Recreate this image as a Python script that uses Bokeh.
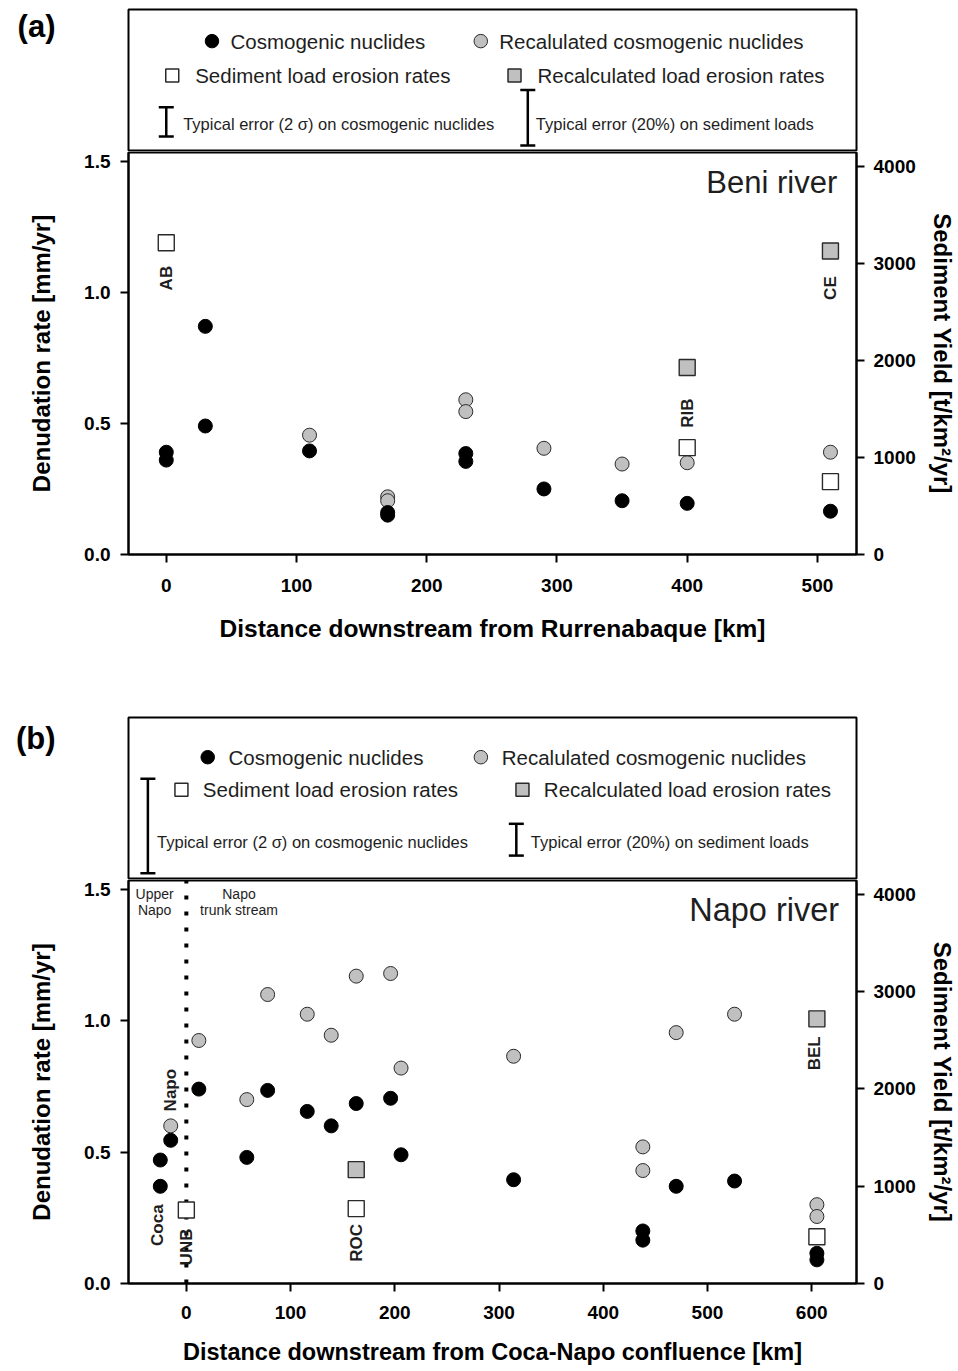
from math import pi

from bokeh.plotting import figure
from bokeh.layouts import column
from bokeh.models import (Range1d, LinearAxis, FixedTicker, Label, Whisker, TeeHead,
                          ColumnDataSource, NumeralTickFormatter, CustomJSTickFormatter)
from bokeh.embed import file_html
from bokeh.resources import INLINE

FONT = "Liberation Sans"
T_PER_MM = 2700          # sediment yield (t/km2/yr) equivalent of 1 mm/yr at 2.7 t/m3

# ---------------- Beni river ----------------
beni_cosmo_km = [0, 0, 30, 30, 110, 170, 170, 230, 230, 290, 350, 400, 510]
beni_cosmo_rate = [0.39, 0.36, 0.87, 0.49, 0.395, 0.16, 0.15, 0.385, 0.355, 0.25, 0.205, 0.195, 0.165]
beni_recalc_km = [110, 170, 170, 230, 230, 290, 350, 400, 510]
beni_recalc_rate = [0.455, 0.22, 0.205, 0.59, 0.545, 0.405, 0.345, 0.35, 0.39]
beni_load_km = [0, 400, 510]
beni_load_yield = [3210, 1100, 750]
beni_recalc_load_km = [400, 510]
beni_recalc_load_yield = [1925, 3125]
beni_stations = ["AB", "RIB", "CE"]
beni_station_km = [0, 400, 510]
beni_cosmo_err = 0.112      # typical 2 sigma, mm/yr
beni_load_err = 0.212       # 20 % on sediment loads, mm/yr

# ---------------- Napo river ----------------
napo_cosmo_km = [-25, -25, -15, 12, 58, 78, 116, 139, 163, 196, 206, 314, 438, 438, 470, 526, 605, 605]
napo_cosmo_rate = [0.47, 0.37, 0.545, 0.74, 0.48, 0.735, 0.655, 0.60, 0.685, 0.705, 0.49,
                   0.395, 0.20, 0.165, 0.37, 0.39, 0.115, 0.09]
napo_recalc_km = [-15, 12, 58, 78, 116, 139, 163, 196, 206, 314, 438, 438, 470, 526, 605, 605]
napo_recalc_rate = [0.60, 0.925, 0.70, 1.10, 1.025, 0.945, 1.17, 1.18, 0.82, 0.865, 0.52, 0.43,
                    0.955, 1.025, 0.30, 0.255]
napo_load_km = [0, 163, 605]
napo_load_yield = [755, 770, 480]
napo_recalc_load_km = [163, 605]
napo_recalc_load_yield = [1170, 2720]
napo_stations = ["Coca", "Napo", "UNB", "ROC", "BEL"]
napo_station_km = [-28, -15, 0, 163, 603]
napo_cosmo_err = 0.359
napo_load_err = 0.121

# ---------------- ticks ----------------
Y_TICKS = [0, 0.5, 1.0, 1.5]
YIELD_TICKS = [0, 1000, 2000, 3000, 4000]
BENI_X_TICKS = [0, 100, 200, 300, 400, 500]
NAPO_X_TICKS = [0, 100, 200, 300, 400, 500, 600]

GREY = "#c0c0c0"
EDGE = "#2a2a2a"
TXT = "#1e1e1e"

BORDER_L, BORDER_R, WIDTH = 128, 102, 958


def style_axis(ax, standoff):
    ax.axis_line_width = 2
    ax.axis_line_color = "black"
    ax.major_tick_line_width = 2
    ax.major_tick_line_color = "black"
    ax.major_tick_out = 8
    ax.major_tick_in = 0
    ax.minor_tick_line_color = None
    ax.major_label_text_font = FONT
    ax.major_label_text_font_style = "bold"
    ax.major_label_text_font_size = "19px"
    ax.major_label_text_color = "black"
    ax.major_label_standoff = standoff


def title_style(ax, size, standoff):
    ax.axis_label_text_font = FONT
    ax.axis_label_text_font_style = "bold"
    ax.axis_label_text_font_size = size
    ax.axis_label_text_color = "black"
    ax.axis_label_standoff = standoff


def make_plot(height, bottom, xr, ytop, x_ticks, xlabel, xlabel_size, tick_sd, label_sd):
    p = figure(width=WIDTH, height=height, x_range=Range1d(*xr), y_range=Range1d(0, ytop),
               output_backend="svg", toolbar_location=None,
               min_border_left=BORDER_L, min_border_right=BORDER_R,
               min_border_top=1, min_border_bottom=bottom)
    p.grid.visible = False
    p.outline_line_color = "black"
    p.outline_line_width = 2
    p.background_fill_color = "white"
    p.border_fill_color = "white"
    p.extra_y_ranges = {"yield": Range1d(0, ytop * T_PER_MM)}

    p.yaxis.ticker = FixedTicker(ticks=Y_TICKS)
    p.yaxis.formatter = NumeralTickFormatter(format="0.0")
    style_axis(p.yaxis[0], 10)
    p.yaxis.axis_label = "Denudation rate [mm/yr]"
    title_style(p.yaxis[0], "24px", 26)

    p.xaxis.ticker = FixedTicker(ticks=x_ticks)
    style_axis(p.xaxis[0], tick_sd)
    p.xaxis.axis_label = xlabel
    title_style(p.xaxis[0], xlabel_size, label_sd)

    right = LinearAxis(y_range_name="yield", ticker=FixedTicker(ticks=YIELD_TICKS),
                       axis_label="Sediment Yield [t/km\u00b2/yr]")
    style_axis(right, 9)
    title_style(right, "24px", 10)
    p.add_layout(right, "right")
    return p


def make_key_figure(height, top, xr, yr, tag, tag_y):
    k = figure(width=WIDTH, height=height, x_range=Range1d(*xr), y_range=Range1d(*yr),
               x_axis_location=None, y_axis_location=None, output_backend="svg",
               toolbar_location=None, min_border_left=BORDER_L, min_border_right=BORDER_R,
               min_border_top=top, min_border_bottom=0)
    k.grid.visible = False
    k.outline_line_color = "black"
    k.outline_line_width = 2
    k.background_fill_color = "white"
    k.border_fill_color = "white"
    # panel letter, set in the left margin as a single unlined tick label
    tag_axis = LinearAxis(ticker=FixedTicker(ticks=[tag_y]),
                          formatter=CustomJSTickFormatter(code="return %r;" % tag))
    tag_axis.axis_line_color = None
    tag_axis.major_tick_line_color = None
    tag_axis.minor_tick_line_color = None
    tag_axis.major_tick_out = 0
    tag_axis.major_label_standoff = 73
    tag_axis.major_label_text_font = FONT
    tag_axis.major_label_text_font_style = "bold"
    tag_axis.major_label_text_font_size = "31px"
    tag_axis.major_label_text_color = "black"
    k.add_layout(tag_axis, "left")
    return k


def add_text(p, x, y, text, size, bold=False, align="left", angle=0.0, color=TXT):
    p.add_layout(Label(x=x, y=y, text=text, text_font=FONT, text_font_size=size,
                       text_font_style="bold" if bold else "normal", text_color=color,
                       text_align=align, text_baseline="middle", angle=angle))


def add_key(k, row1, row2, row3, dot_x, sq_x, txt_dx_dot, txt_dx_sq, bar1, bar2, err1, err2):
    # row 1: circles
    k.scatter([dot_x[0]], [row1], marker="circle", size=13.5, fill_color="black", line_color="black")
    k.scatter([dot_x[1]], [row1], marker="circle", size=13.5, fill_color=GREY, line_color=EDGE)
    add_text(k, dot_x[0] + txt_dx_dot, row1, "Cosmogenic nuclides", "20.5px")
    add_text(k, dot_x[1] + txt_dx_dot, row1, "Recalulated cosmogenic nuclides", "20.5px")
    # row 2: squares
    k.scatter([sq_x[0]], [row2], marker="square", size=13, fill_color="white", line_color=EDGE, line_width=1.5)
    k.scatter([sq_x[1]], [row2], marker="square", size=13, fill_color=GREY, line_color=EDGE, line_width=1.5)
    add_text(k, sq_x[0] + txt_dx_sq, row2, "Sediment load erosion rates", "20.5px")
    add_text(k, sq_x[1] + txt_dx_sq, row2, "Recalculated load erosion rates", "20.5px")
    # row 3: typical error bars
    src = ColumnDataSource(dict(x=[bar1[0], bar2[0]],
                                lo=[bar1[1] - err1 / 2, bar2[1] - err2 / 2],
                                up=[bar1[1] + err1 / 2, bar2[1] + err2 / 2]))
    k.add_layout(Whisker(source=src, base="x", lower="lo", upper="up", dimension="height",
                         line_color="black", line_width=2.5,
                         lower_head=TeeHead(size=15, line_width=2.5, line_color="black"),
                         upper_head=TeeHead(size=15, line_width=2.5, line_color="black")))
    add_text(k, bar1[2], row3, "Typical error (2 \u03c3) on cosmogenic nuclides", "16.5px")
    add_text(k, bar2[2], row3, "Typical error (20%) on sediment loads", "16.5px")


def add_data(p, ck, cr, rk, rr, lk, ly, qk, qy):
    p.scatter(rk, rr, marker="circle", size=14, fill_color=GREY, line_color=EDGE, line_width=1)
    p.scatter(ck, cr, marker="circle", size=14, fill_color="black", line_color="black")
    p.scatter(lk, ly, y_range_name="yield", marker="square", size=16,
              fill_color="white", line_color=EDGE, line_width=1.4)
    p.scatter(qk, qy, y_range_name="yield", marker="square", size=16,
              fill_color=GREY, line_color=EDGE, line_width=1.4)


# ================= panel (a) =================
A_X = (-29, 530)
A_TOP = 1.533
ka = make_key_figure(151, 9, A_X, (1.537, 2.0786), "(a)", 2.0156)
add_key(ka, 1.958, 1.827, 1.640, (35.1, 241.5), (4.6, 267.4), 14.2, 17.6,
        (0, 1.650, 13.0), (277.6, 1.666, 283.8), beni_cosmo_err, beni_load_err)

pa = make_plot(509, 106, A_X, A_TOP, BENI_X_TICKS,
               "Distance downstream from Rurrenabaque [km]", "24.5px", 16, 20)
add_data(pa, beni_cosmo_km, beni_cosmo_rate, beni_recalc_km, beni_recalc_rate,
         beni_load_km, beni_load_yield, beni_recalc_load_km, beni_recalc_load_yield)
for name, km, yy in zip(beni_stations, beni_station_km, [1.054, 0.539, 1.016]):
    add_text(pa, km, yy, name, "17px", bold=True, align="center", angle=pi / 2)
add_text(pa, 515.2, 1.417, "Beni river", "31px", align="right")

# ================= panel (b) =================
B_X = (-55.5, 643)
B_TOP = 1.534
kb = make_key_figure(219, 57, B_X, (1.5378, 2.1545), "(b)", 2.0745)
add_key(kb, 2.0034, 1.8793, 1.6798, (20.5, 282.6), (-4.7, 322.5), 20.0, 20.5,
        (-36.9, 1.7415, -28.1), (316.6, 1.6893, 330.5), napo_cosmo_err, napo_load_err)

pb = make_plot(492, 88, B_X, B_TOP, NAPO_X_TICKS,
               "Distance downstream from Coca-Napo confluence [km]", "23.5px", 14, 17)
# Coca-Napo confluence
pb.segment(x0=[0], y0=[0], x1=[0], y1=[B_TOP], line_color="black", line_width=4,
           line_dash="4 12")
add_data(pb, napo_cosmo_km, napo_cosmo_rate, napo_recalc_km, napo_recalc_rate,
         napo_load_km, napo_load_yield, napo_recalc_load_km, napo_recalc_load_yield)
for name, km, yy in zip(napo_stations, napo_station_km, [0.222, 0.736, 0.139, 0.155, 0.876]):
    add_text(pb, km, yy, name, "17px", bold=True, align="center", angle=pi / 2)
add_text(pb, -30.4, 1.482, "Upper", "14px", align="center")
add_text(pb, -30.4, 1.421, "Napo", "14px", align="center")
add_text(pb, 50.5, 1.482, "Napo", "14px", align="center")
add_text(pb, 50.5, 1.421, "trunk stream", "14px", align="center")
add_text(pb, 626.3, 1.421, "Napo river", "32.5px", align="right")

layout = column(ka, pa, kb, pb, spacing=0)
open("out.html", "w").write(file_html(layout, INLINE))
